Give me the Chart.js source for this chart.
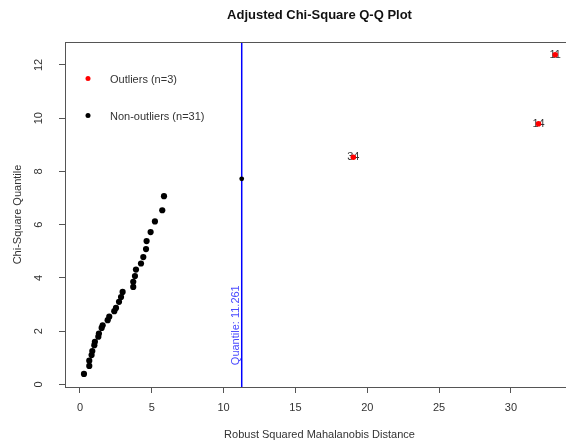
<!DOCTYPE html>
<html>
<head>
<meta charset="utf-8">
<script src="https://cdn.jsdelivr.net/npm/chart.js@4"></script>
<style>
  html, body { margin: 0; padding: 0; overflow: hidden; background: #fff; }
</style>
</head>
<body>
<canvas id="qqChart" width="580" height="445"></canvas>
<script>
// non-outliers (robust squared distance vs chi-square quantile)
const nonOutlierDist = [0.28, 0.65, 0.65, 0.81, 0.86, 1.00, 1.04, 1.28, 1.32, 1.51, 1.58, 1.93, 2.04, 2.39, 2.51, 2.72,
  2.86, 2.97, 3.71, 3.71, 3.83, 3.90, 4.25, 4.41, 4.60, 4.64, 4.92, 5.22, 5.73, 5.85, 11.26];
const nonOutlierQuant = [0.39, 0.69, 0.89, 1.10, 1.25, 1.47, 1.60, 1.79, 1.91, 2.12, 2.22, 2.41, 2.54, 2.75, 2.87, 3.10,
  3.28, 3.47, 3.66, 3.85, 4.07, 4.31, 4.54, 4.78, 5.08, 5.38, 5.72, 6.12, 6.54, 7.07, 7.72];
// outliers
const outlierIds = ['11', '14', '34'];
const outlierDist = [33.08, 31.92, 19.03];
const outlierQuant = [12.38, 9.79, 8.53];
const cutoff = 11.261;
const xTicks = [0, 5, 10, 15, 20, 25, 30];
const yTicks = [0, 2, 4, 6, 8, 10, 12];

const FONT = '"Liberation Sans", Arial, sans-serif';
const TXT = '#333';

const toPoints = (xs, ys) => xs.map((x, i) => ({ x: x, y: ys[i] }));

// title, box, cutoff line, rotated y labels, legend, outlier ids
const extras = {
  id: 'extras',
  beforeDatasetsDraw(chart) {
    const { ctx, chartArea: a, scales: { x, y } } = chart;
    ctx.save();
    // cutoff line
    const lx = x.getPixelForValue(cutoff);
    ctx.strokeStyle = '#0000ff';
    ctx.lineWidth = 1.5;
    ctx.beginPath();
    ctx.moveTo(lx, a.top);
    ctx.lineTo(lx, a.bottom);
    ctx.stroke();
    // quantile text
    ctx.save();
    ctx.translate(lx - 6, y.getPixelForValue(0.72));
    ctx.rotate(-Math.PI / 2);
    ctx.fillStyle = '#4a4aff';
    ctx.font = '11px ' + FONT;
    ctx.textAlign = 'left';
    ctx.textBaseline = 'middle';
    ctx.fillText('Quantile: ' + cutoff, 0, 0);
    ctx.restore();
    // outlier ids under the red dots
    const meta = chart.getDatasetMeta(0);
    ctx.fillStyle = TXT;
    ctx.font = '11px ' + FONT;
    ctx.textAlign = 'center';
    ctx.textBaseline = 'middle';
    meta.data.forEach((pt, i) => ctx.fillText(outlierIds[i], pt.x, pt.y));
    ctx.restore();
  },
  afterDraw(chart) {
    const { ctx, chartArea: a, scales: { y } } = chart;
    ctx.save();
    // box
    ctx.strokeStyle = '#555';
    ctx.lineWidth = 1;
    ctx.strokeRect(a.left + 0.5, a.top + 0.5, a.right - a.left, a.bottom - a.top);
    // title
    ctx.fillStyle = '#111';
    ctx.font = 'bold 13px ' + FONT;
    ctx.textAlign = 'center';
    ctx.textBaseline = 'middle';
    const cx = (a.left + a.right) / 2;
    ctx.fillText('Adjusted Chi-Square Q-Q Plot', cx, 15);
    // axis titles
    ctx.fillStyle = TXT;
    ctx.font = '11px ' + FONT;
    ctx.fillText('Robust Squared Mahalanobis Distance', cx, 435);
    ctx.save();
    ctx.translate(18, (a.top + a.bottom) / 2);
    ctx.rotate(-Math.PI / 2);
    ctx.fillText('Chi-Square Quantile', 0, 0);
    ctx.restore();
    // y tick labels, rotated as in R
    yTicks.forEach(v => {
      ctx.save();
      ctx.translate(39, y.getPixelForValue(v));
      ctx.rotate(-Math.PI / 2);
      ctx.fillText(String(v), 0, 0);
      ctx.restore();
    });
    // legend
    const items = [['Outliers (n=' + outlierIds.length + ')', '#ff0000', 78.5],
                   ['Non-outliers (n=' + nonOutlierDist.length + ')', '#000', 115.5]];
    ctx.textAlign = 'left';
    items.forEach(([label, col, ly]) => {
      ctx.fillStyle = col;
      ctx.beginPath();
      ctx.arc(88, ly, 2.5, 0, Math.PI * 2);
      ctx.fill();
      ctx.fillStyle = TXT;
      ctx.fillText(label, 110, ly + 1);
    });
    ctx.restore();
  }
};

new Chart(document.getElementById('qqChart'), {
  type: 'scatter',
  data: {
    datasets: [{
      label: 'Outliers',
      data: toPoints(outlierDist, outlierQuant),
      backgroundColor: '#ff0000',
      borderWidth: 0,
      pointRadius: 2.8
    }, {
      label: 'Non-outliers',
      data: toPoints(nonOutlierDist, nonOutlierQuant),
      backgroundColor: '#000',
      borderWidth: 0,
      pointRadius: c => (c.raw && c.raw.x > cutoff - 0.1 ? 2.4 : 3.1)
    }]
  },
  options: {
    responsive: false,
    animation: false,
    layout: { padding: { top: 42, right: 6, left: 0, bottom: 0 } },
    plugins: { legend: { display: false }, tooltip: { enabled: false } },
    scales: {
      x: {
        type: 'linear',
        min: -1.04,
        max: 34.39,
        afterBuildTicks: s => { s.ticks = xTicks.map(v => ({ value: v })); },
        afterFit: s => { s.height = 58; },
        grid: { drawOnChartArea: false, drawTicks: true, tickLength: 6, color: '#555' },
        border: { display: false },
        ticks: { autoSkip: false, maxRotation: 0, padding: 8, color: TXT, font: { family: FONT, size: 11 } }
      },
      y: {
        type: 'linear',
        min: -0.1,
        max: 12.86,
        afterBuildTicks: s => { s.ticks = yTicks.map(v => ({ value: v })); },
        afterFit: s => { s.width = 65; },
        grid: { drawOnChartArea: false, drawTicks: true, tickLength: 6, color: '#555' },
        border: { display: false },
        ticks: { display: false }
      }
    }
  },
  plugins: [extras]
});
</script>
</body>
</html>
